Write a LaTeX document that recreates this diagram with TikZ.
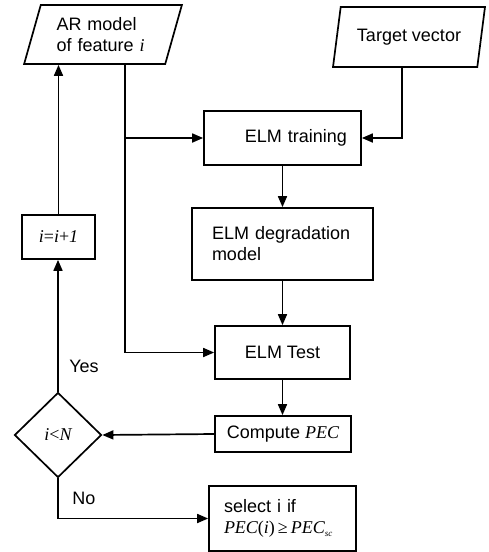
\documentclass[tikz,border=0pt]{standalone}
\usepackage{fontspec}
\setmainfont{Liberation Sans}
\newfontfamily\tms{Liberation Serif}
\usetikzlibrary{arrows.meta,positioning,shapes.geometric,calc}
\newcommand{\vi}[1]{{\tms\itshape #1}}
\newcommand{\up}[1]{{\tms #1}}
\tikzset{
  txt/.style={font=\fontsize{18}{21}\selectfont},
  blk/.style={rectangle, draw, line width=1.7pt, inner sep=0pt, txt},
  io/.style={trapezium, trapezium left angle=70, trapezium right angle=110,
    trapezium stretches=true, draw, line width=1.7pt, inner sep=0pt, txt},
  dec/.style={diamond, draw, line width=1.7pt, inner sep=0pt, txt},
  link/.style={-{Triangle[length=11pt,width=9pt]}, line width=1.7pt},
  wire/.style={line width=1.7pt},
}
\begin{document}
\begin{tikzpicture}[x=1pt, y=-1pt]
  \useasboundingbox (0,0) rectangle (488,552);
  % inputs
  \node[io, minimum width=158pt, minimum height=59pt, text width=93pt, align=left] (ar) at (103,34.5) {AR model\\of feature \vi{i}};
  \node[io, minimum width=152pt, minimum height=60pt] (tv) at (409,37) {Target vector};
  % ELM chain
  \node[blk, minimum width=157pt, minimum height=54pt, text width=129pt, align=right] (train) at (282.5,138) {ELM training};
  \node[blk, minimum width=181pt, minimum height=72pt, text width=141pt, align=left] (deg) at (282.5,244) {ELM degradation\\model};
  \node[blk, minimum width=135pt, minimum height=53pt] (test) at (282.5,352.5) {ELM Test};
  \node[blk, minimum width=136pt, minimum height=36pt] (cpec) at (283,434) {Compute \vi{PEC}};
  \node[blk, minimum width=147pt, minimum height=65pt, text width=117pt, align=left] (sel) at (282.5,518.5)
    {select i if\\\vi{PEC}\up{(}\vi{i}\up{)}\,\up{≥}\,\vi{PEC}\raisebox{-3pt}{\fontsize{9}{9}\selectfont\vi{sc}}};
  % loop over features
  \node[dec, minimum width=87pt, minimum height=85pt] (chk) at (58,435) {\vi{i}\up{<}\vi{N}};
  \node[blk, minimum width=73pt, minimum height=44pt] (inc) at (58.5,237) {\vi{i}\up{=}\vi{i}\up{+}\vi{1}};
  \node[txt] (yes) at (84,366) {Yes};
  \node[txt] (no) at (84,498) {No};
  \coordinate (jn) at (125,138);

  \draw[wire] (ar.south -| jn) -- (jn);
  \draw[link] (jn) -- (train.west);
  \draw[link] (jn) |- (test.west);
  \draw[link] ([xshift=-7pt]tv.south) |- (train.east);
  \draw[link] (train.south) -- (deg.north);
  \draw[link] (deg.south) -- (test.north);
  \draw[link] (test.south) -- (test.south |- cpec.north);
  \draw[link] (cpec.west) -- (chk.east);
  \draw[link] (chk.north) -- (chk.north |- inc.south);
  \draw[link] (inc.north) -- (inc.north |- ar.south);
  \draw[link] (chk.south) |- (sel.west);
\end{tikzpicture}
\end{document}
